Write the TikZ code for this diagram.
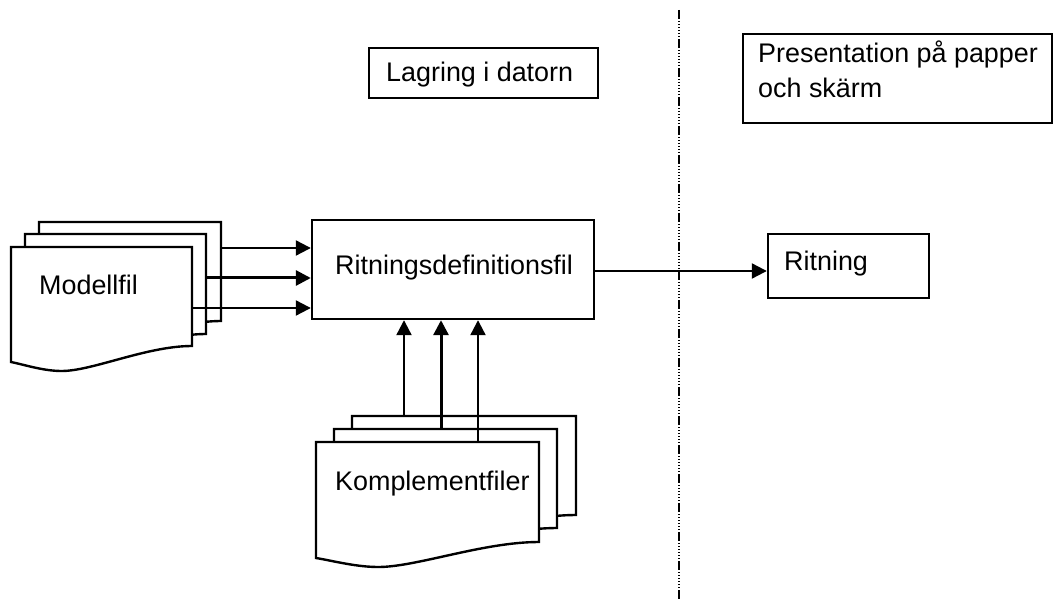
\documentclass[tikz,border=0pt]{standalone}
\usepackage{fontspec}
\setmainfont{Liberation Sans}
\usetikzlibrary{arrows.meta}
\newcommand\docshape[4]{%
  \pgfmathsetmacro\dw{#3-(#1)}%
  \draw[doc] (#1,#2) -- (#3,#2) -- (#3,#4)
    .. controls ({#3-0.25*\dw},#4) and ({#1+0.45*\dw},{#4+25}) .. ({#1+0.28*\dw},{#4+25})
    .. controls ({#1+0.18*\dw},{#4+25}) and ({#1+0.08*\dw},{#4+19}) .. (#1,{#4+16}) -- cycle;}
\begin{document}
\begin{tikzpicture}[x=1pt,y=-1pt,
  box/.style={draw,line width=2.4pt,inner sep=0pt},
  doc/.style={draw,line width=2.4pt,fill=white,line join=miter},
  lbl/.style={anchor=base west,inner sep=0pt,font=\fontsize{26.9}{35}\selectfont},
  arr/.style={line width=2.2pt,-{Triangle[length=15pt,width=15pt]}},
  thickarr/.style={arr,line width=3pt},
  sepline/.style={line width=1.5pt,dash pattern=on 9pt off 2pt on 1.2pt off 1.8pt on 1.2pt off 1.8pt on 1.2pt off 1.8pt on 1.2pt off 1.8pt on 1.2pt off 1.8pt on 1.2pt off 1.8pt}]
\useasboundingbox (0,0) rectangle (1054,601);

% separator
\coordinate (septop) at (679,10);
\coordinate (sepbot) at (679,601);
\draw[sepline] (septop) -- (sepbot);

% title boxes
\node[box,minimum width=229pt,minimum height=50pt] (lag) at (483.5,73) {};
\node[lbl] (lagt) at (386,82) {Lagring i datorn};
\node[box,minimum width=309pt,minimum height=89pt] (pres) at (897.5,78.5) {};
\node[lbl] (prest1) at (758,63) {Presentation på papper};
\node[lbl] (prest2) at (758,98) {och skärm};

% main boxes
\node[box,minimum width=282pt,minimum height=99pt] (rdf) at (453,269.5) {};
\node[lbl] (rdft) at (335,275) {Ritningsdefinitionsfil};
\node[box,minimum width=161pt,minimum height=64pt] (rit) at (848.5,266) {};
\node[lbl] (ritt) at (784,271) {Ritning};

% Modellfil stack
\docshape{39}{222}{221}{321}
\docshape{25}{234}{206}{334}
\docshape{11}{247}{192}{346}
\node[lbl] (modt) at (39,295) {Modellfil};
\coordinate (m1) at (221,248);
\coordinate (m2) at (206,278);
\coordinate (m3) at (192,308);

% Komplementfiler stack
\docshape{352}{416}{576}{515}
\docshape{334}{429}{557}{528}
\docshape{316}{442}{539}{542}
\node[lbl] (komt) at (335,490) {Komplementfiler};
\coordinate (k1) at (404,416);
\coordinate (k2) at (441,429);
\coordinate (k3) at (478,442);

% arrows
\draw[arr] (m1) -- (rdf.west |- m1);
\draw[thickarr] (m2) -- (rdf.west |- m2);
\draw[arr] (m3) -- (rdf.west |- m3);
\draw[arr] (k1) -- (rdf.south -| k1);
\draw[thickarr] (k2) -- (rdf.south -| k2);
\draw[arr] (k3) -- (rdf.south -| k3);
\coordinate (out) at (594,271);
\draw[arr] (rdf.east |- out) -- (rit.west |- out);
\end{tikzpicture}
\end{document}
